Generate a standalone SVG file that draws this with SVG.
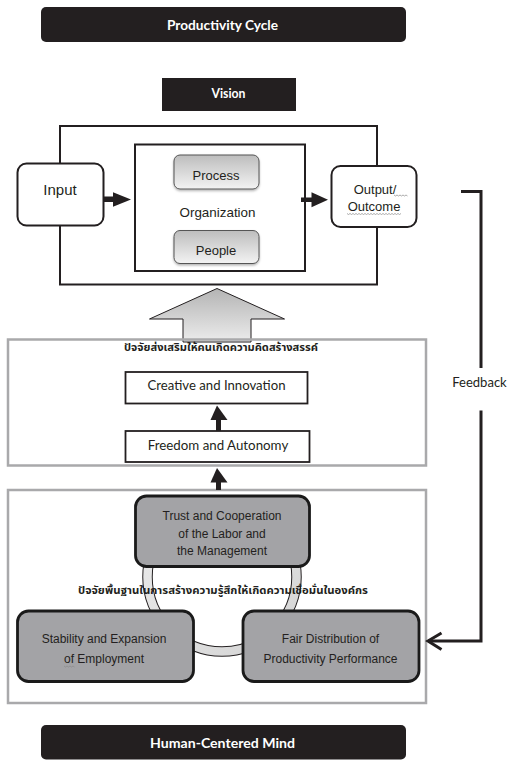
<svg xmlns="http://www.w3.org/2000/svg" width="514" height="765" viewBox="0 0 514 765">
<defs>
<linearGradient id="gPill" x1="0" y1="0" x2="0" y2="1">
<stop offset="0" stop-color="#bdbdbd"/><stop offset="1" stop-color="#f3f3f3"/>
</linearGradient>
<linearGradient id="gArrow" x1="0" y1="0" x2="0" y2="1">
<stop offset="0" stop-color="#b4b4b4"/><stop offset="1" stop-color="#ececec"/>
</linearGradient>
<linearGradient id="gRing" x1="0" y1="0" x2="1" y2="1">
<stop offset="0" stop-color="#ececec"/><stop offset="1" stop-color="#d4d4d4"/>
</linearGradient>
<filter id="sh" x="-10%" y="-10%" width="130%" height="140%">
<feDropShadow dx="0" dy="1.5" stdDeviation="1.2" flood-color="#000" flood-opacity="0.3"/>
</filter>
</defs>
<style>
.bar{fill:#231f20}
.title{font-family:Lato,"Open Sans",sans-serif;font-weight:bold;font-size:13px;fill:#fff;text-anchor:middle}
.t{font-family:"Liberation Sans",Arial,sans-serif;font-size:13px;fill:#231f20;text-anchor:middle}
.c{font-family:Lato,"Open Sans",sans-serif;font-size:13px;fill:#231f20;text-anchor:middle}
.th{font-family:"Noto Sans Thai","Noto Sans","DejaVu Sans",sans-serif;font-size:10px;font-weight:bold;fill:#231f20;text-anchor:middle}
.wb{fill:#fff;stroke:#231f20;stroke-width:2}
.pill{fill:url(#gPill);stroke:#555;stroke-width:1}
.gb{fill:none;stroke:#a9a9ab;stroke-width:2.5}
.dk{fill:#a3a3a6;stroke:#1a1a1a;stroke-width:2.8}
.rb{fill:#fff;stroke:#231f20;stroke-width:1.8}
.ln{fill:none;stroke:#231f20;stroke-width:3}
.wv{fill:none;stroke:#8a8a8a;stroke-width:0.7}
.ah{fill:#231f20}
</style>

<g id="productivity-cycle">
<rect class="bar" x="41" y="7" width="365" height="35" rx="5"/>
<text class="title" x="222.5" y="29.5" textLength="111" lengthAdjust="spacingAndGlyphs">Productivity Cycle</text>
</g>

<g id="vision">
<rect class="bar" x="162" y="78" width="134" height="33"/>
<text class="title" x="228.5" y="98.3" textLength="34" lengthAdjust="spacingAndGlyphs">Vision</text>
</g>

<g id="system">
<rect x="60" y="126" width="317" height="158.5" fill="none" stroke="#231f20" stroke-width="2"/>
</g>

<g id="organization">
<rect x="135" y="144.5" width="170" height="126.5" fill="#fff" stroke="#231f20" stroke-width="2"/>
<text class="t" x="217.5" y="216.5" textLength="76" lengthAdjust="spacingAndGlyphs">Organization</text>
</g>

<g id="process">
<rect class="pill" x="174" y="155" width="85" height="34" rx="6" filter="url(#sh)"/>
<text class="t" x="216" y="180">Process</text>
</g>

<g id="people">
<rect class="pill" x="174" y="230.5" width="85" height="33" rx="6" filter="url(#sh)"/>
<text class="t" x="216" y="254.5">People</text>
</g>

<g id="input">
<rect class="wb" x="17.5" y="163.5" width="86" height="62" rx="9"/>
<text class="t" x="60" y="195" style="font-size:15px">Input</text>
</g>

<g id="output">
<rect class="wb" x="331.5" y="166" width="85" height="61" rx="9"/>
<text class="t" x="375" y="194">Output/</text>
<text class="t" x="374" y="210.5">Outcome</text>
<path class="wv" d="M394,195 l1.5,1 l1.5,-1 l1.5,1 l1.5,-1 l1.5,1 l1.5,-1 l1.5,1 l1.5,-1 l1.5,1"/>
<path class="wv" d="M347,213.5 l1.5,1 l1.5,-1 l1.5,1 l1.5,-1 l1.5,1 l1.5,-1 l1.5,1 l1.5,-1 l1.5,1 l1.5,-1 l1.5,1 l1.5,-1 l1.5,1 l1.5,-1 l1.5,1 l1.5,-1 l1.5,1 l1.5,-1 l1.5,1 l1.5,-1 l1.5,1 l1.5,-1 l1.5,1 l1.5,-1 l1.5,1 l1.5,-1 l1.5,1 l1.5,-1 l1.5,1 l1.5,-1 l1.5,1 l1.5,-1 l1.5,1 l1.5,-1 l1.5,1 l1.5,-1"/>
</g>

<g id="creative-factors">
<path d="M217,288.5 L284.5,319 L251,319 L251,342 L183,342 L183,319 L149.5,319 Z" fill="url(#gArrow)" stroke="#231f20" stroke-width="1"/>
<rect class="gb" x="8" y="339.5" width="418" height="126"/>
<text class="th" x="221" y="350.5" textLength="194" lengthAdjust="spacingAndGlyphs">ปัจจัยส่งเสริมให้คนเกิดความคิดสร้างสรรค์</text>
</g>

<g id="creative-innovation">
<rect class="rb" x="125.5" y="372" width="182" height="31.5"/>
<text class="c" x="216.5" y="390" textLength="138" lengthAdjust="spacingAndGlyphs">Creative and Innovation</text>
</g>

<g id="freedom-autonomy">
<rect class="rb" x="125.5" y="431" width="184" height="31"/>
<text class="c" x="218" y="450" textLength="140.5" lengthAdjust="spacingAndGlyphs">Freedom and Autonomy</text>
</g>

<g id="trust-factors">
<rect class="gb" x="8" y="490" width="418" height="213"/>
<circle cx="222" cy="577" r="74.5" fill="none" stroke="#231f20" stroke-width="10.5"/>
<circle cx="222" cy="577" r="74.5" fill="none" stroke="url(#gRing)" stroke-width="8.5"/>
<text class="th" x="223" y="594" textLength="290" lengthAdjust="spacingAndGlyphs">ปัจจัยพื้นฐานในการสร้างความรู้สึกให้เกิดความเชื่อมั่นในองค์กร</text>
</g>

<g id="trust-cooperation">
<rect class="dk" x="135.5" y="496" width="174" height="70.5" rx="11"/>
<text class="t" x="222" y="520" style="font-size:12px">Trust and Cooperation</text>
<text class="t" x="222" y="537.5" style="font-size:12px">of the Labor and</text>
<text class="t" x="222" y="554.5" style="font-size:12px">the Management</text>
</g>

<g id="stability-expansion">
<rect class="dk" x="17.5" y="611" width="176" height="70.5" rx="11"/>
<text class="t" x="104" y="642.5" style="font-size:12px">Stability and Expansion</text>
<text class="t" x="104" y="663" style="font-size:12px">of Employment</text>
<path class="wv" d="M64,666 l1.5,1 l1.5,-1 l1.5,1 l1.5,-1 l1.5,1 l1.5,-1 l1.5,1"/>
</g>

<g id="fair-distribution">
<rect class="dk" x="243" y="611" width="176" height="70.5" rx="11"/>
<text class="t" x="330.5" y="642.5" style="font-size:12px">Fair Distribution of</text>
<text class="t" x="330.5" y="663" style="font-size:12px">Productivity Performance</text>
</g>

<g id="human-centered-mind">
<rect class="bar" x="41" y="725" width="365" height="34.5" rx="5"/>
<text class="title" x="222.5" y="748.3" textLength="145" lengthAdjust="spacingAndGlyphs">Human-Centered Mind</text>
</g>

<g id="connectors">
<rect class="ah" x="103" y="196.5" width="11" height="5.5"/>
<path class="ah" d="M113,192.3 L131,199.5 L113,206.7 Z"/>
<rect class="ah" x="301" y="197.5" width="11" height="4.5"/>
<path class="ah" d="M311.5,192.3 L328,199.8 L311.5,207.3 Z"/>
<path class="ah" d="M217,405.5 L227.5,420 L210.5,420 Z"/>
<rect class="ah" x="216" y="419.5" width="5" height="11.5"/>
<path class="ah" d="M217,468 L227.5,482.5 L210.5,482.5 Z"/>
<rect class="ah" x="216" y="482" width="5" height="8"/>
<path class="ln" d="M461,191.5 H481 V368"/>
<path class="ln" d="M481,410.5 V641 H428"/>
<path class="ln" d="M441.5,633 L428,641 L441.5,649.5"/>
<text class="c" x="479.5" y="386.7" textLength="54.5" lengthAdjust="spacingAndGlyphs">Feedback</text>
</g>
</svg>
